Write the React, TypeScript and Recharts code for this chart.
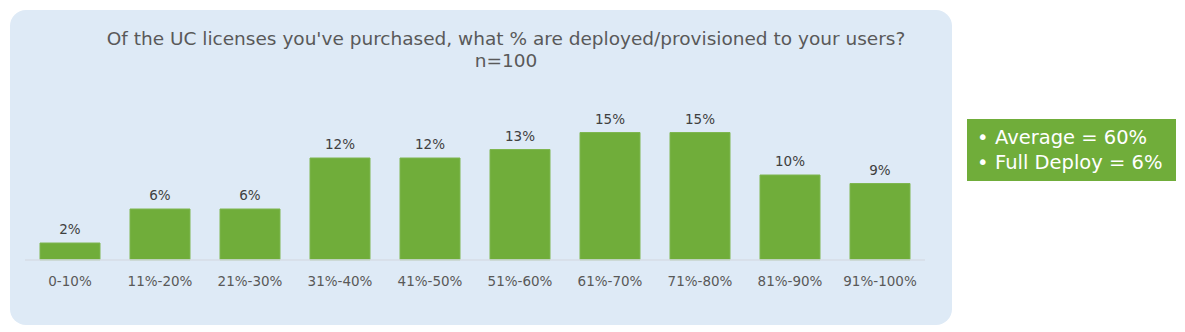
import React from "react";
import { BarChart, Bar, XAxis, YAxis, LabelList } from "recharts";

const categories = ["0-10%", "11%-20%", "21%-30%", "31%-40%", "41%-50%", "51%-60%", "61%-70%", "71%-80%", "81%-90%", "91%-100%"];
const values = [2, 6, 6, 12, 12, 13, 15, 15, 10, 9];
const titleLine1 = "Of the UC licenses you've purchased, what % are deployed/provisioned to your users?";
const titleLine2 = "n=100";
const notes = ["Average = 60%", "Full Deploy = 6%"];

const data = categories.map((c, i) => ({ name: c, value: values[i] }));
const FONT = "'DejaVu Sans', sans-serif";

export default function App() {
  return (
    <div style={{ position: "absolute", left: 0, top: 0, width: 1185, height: 332, background: "#fff", fontFamily: FONT }}>
      <div style={{ position: "absolute", left: 10, top: 10, width: 942, height: 315, borderRadius: 16, background: "#deeaf6" }} />
      <div style={{ position: "absolute", left: 0, top: 28, width: 1012, textAlign: "center", fontSize: 18.5, color: "#595959", lineHeight: "22px" }}>
        <div>{titleLine1}</div>
        <div>{titleLine2}</div>
      </div>
      <div style={{ position: "absolute", left: 0, top: 0 }}>
        <BarChart width={1185} height={332} data={data} margin={{ top: 124, right: 260, bottom: 42, left: 25 }} barCategoryGap={15}>
          <YAxis hide domain={[0, 16]} />
          <XAxis dataKey="name" height={30} tickLine={false} axisLine={{ stroke: "#d6dde6", strokeWidth: 1.5 }} tickMargin={10} tick={{ fill: "#595959", fontSize: 13.5, fontFamily: FONT }} interval={0} />
          <Bar dataKey="value" fill="#70ad3a" stroke="#7fb650" strokeWidth={1} isAnimationActive={false}>
            <LabelList dataKey="value" position="top" offset={9} formatter={(v: number) => `${v}%`} style={{ fill: "#404040", fontSize: 13.5, fontFamily: FONT }} />
          </Bar>
        </BarChart>
      </div>
      <div style={{ position: "absolute", left: 967, top: 119, width: 209, height: 62, background: "#70ad3a", color: "#fff", fontSize: 19.5, lineHeight: "25px", padding: "6px 0 0 10px", boxSizing: "border-box" }}>
        {notes.map((n) => (
          <div key={n} style={{ whiteSpace: "nowrap" }}>
            <span style={{ display: "inline-block", width: 18 }}>•</span>
            {n}
          </div>
        ))}
      </div>
    </div>
  );
}
